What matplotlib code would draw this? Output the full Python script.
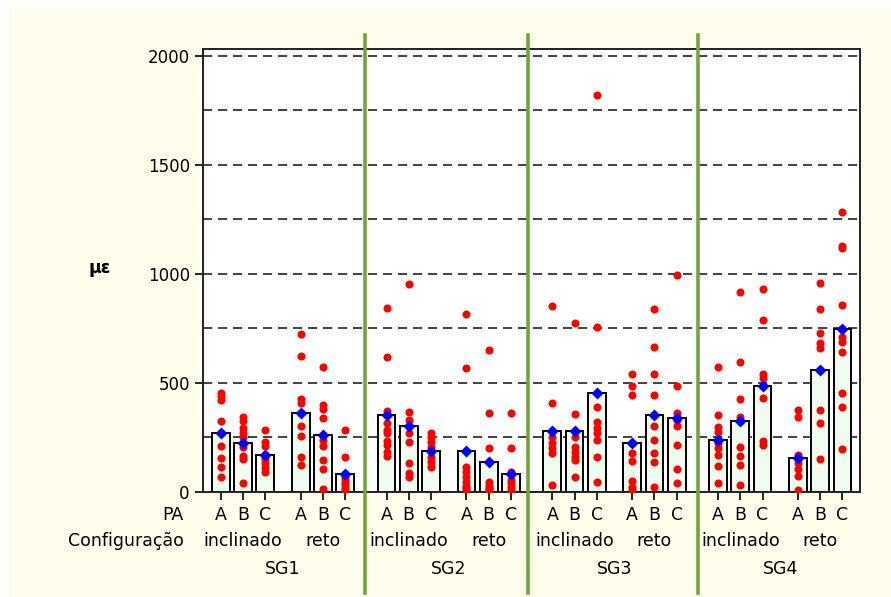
import numpy as np
import matplotlib.pyplot as plt
import matplotlib.transforms as mtransforms
from matplotlib.lines import Line2D
from matplotlib.patches import Rectangle

# grupos
sg_nomes = ['SG1', 'SG2', 'SG3', 'SG4']
configs = ['inclinado', 'reto']
pa_nomes = ['A', 'B', 'C']

# médias (diamante azul) na ordem SG -> configuração -> PA
medias = [269, 226, 168, 361, 261, 83,
          353, 303, 189, 189, 139, 83,
          281, 281, 453, 226, 353, 339,
          240, 324, 488, 155, 560, 746]

# valores individuais (pontos vermelhos), mesma ordem
sg1_incl_A = [455, 440, 420, 326, 270, 211, 155, 113, 70]
sg1_incl_B = [343, 324, 294, 269, 251, 226, 208, 165, 150, 43]
sg1_incl_C = [284, 231, 211, 168, 150, 132, 109, 90]
sg1_reto_A = [725, 625, 427, 407, 361, 303, 257, 159, 124]
sg1_reto_B = [575, 399, 379, 338, 261, 239, 212, 147, 104, 12]
sg1_reto_C = [284, 162, 83, 70, 55, 40, 32, 20, 9]
sg2_incl_A = [845, 618, 373, 353, 315, 284, 269, 234, 216, 185, 165]
sg2_incl_B = [953, 368, 330, 303, 269, 231, 134, 86, 70]
sg2_incl_C = [272, 254, 231, 208, 189, 162, 139, 116]
sg2_reto_A = [816, 567, 116, 93, 70, 47, 28, 20, 10]
sg2_reto_B = [651, 361, 203, 47, 30, 24, 15, 9, 5]
sg2_reto_C = [361, 203, 93, 83, 55, 40, 24, 10, 1]
sg3_incl_A = [853, 410, 281, 254, 226, 200, 180, 32]
sg3_incl_B = [774, 358, 281, 254, 208, 185, 162, 147, 67]
sg3_incl_C = [1822, 758, 391, 322, 292, 269, 239, 162, 47]
sg3_reto_A = [540, 488, 445, 226, 177, 142, 52, 24, 9]
sg3_reto_B = [838, 667, 540, 445, 353, 304, 239, 177, 136, 24]
sg3_reto_C = [995, 488, 361, 339, 330, 304, 216, 104, 40]
sg4_incl_A = [575, 353, 300, 277, 240, 223, 200, 170, 119, 40]
sg4_incl_B = [916, 595, 425, 345, 324, 205, 167, 124, 32]
sg4_incl_C = [930, 789, 541, 521, 488, 430, 235, 216]
sg4_reto_A = [376, 345, 170, 155, 134, 104, 73, 9]
sg4_reto_B = [957, 838, 731, 685, 659, 560, 376, 315, 153]
sg4_reto_C = [1286, 1121, 1130, 858, 746, 712, 690, 644, 453, 389, 197]

pontos = [sg1_incl_A, sg1_incl_B, sg1_incl_C, sg1_reto_A, sg1_reto_B, sg1_reto_C,
          sg2_incl_A, sg2_incl_B, sg2_incl_C, sg2_reto_A, sg2_reto_B, sg2_reto_C,
          sg3_incl_A, sg3_incl_B, sg3_incl_C, sg3_reto_A, sg3_reto_B, sg3_reto_C,
          sg4_incl_A, sg4_incl_B, sg4_incl_C, sg4_reto_A, sg4_reto_B, sg4_reto_C]

# posições no eixo x
periodo_sg = 7.47
offs = [0, 1, 2, 3.6, 4.6, 5.6]
xs = np.array([i * periodo_sg + o for i in range(4) for o in offs])
separadores = [6.5, 13.85, 21.5]

fundo = '#fffeec'
verde = '#72a53f'

fig = plt.figure(figsize=(8.91, 5.97), dpi=100, facecolor='white')
# faixa branca em cima e à esquerda, resto amarelo claro
fig.add_artist(Rectangle((9 / 891, 0), 1, 1 - 7 / 597, transform=fig.transFigure,
                         facecolor=fundo, edgecolor='none', zorder=-10))
ax = fig.add_axes([0.2278, 0.1759, 0.7374, 0.742])
ax.set_facecolor('white')

ax.bar(xs, medias, width=0.8, color='#effcef', edgecolor='black', linewidth=1.4, zorder=2)
for x, vals in zip(xs, pontos):
    ax.plot([x] * len(vals), vals, 'o', color='#ff0000', ms=5.8, mec='none', zorder=3)
ax.plot(xs, medias, 'D', color='#0000ff', ms=6.5, mec='none', zorder=4)

ax.set_xlim(-0.8, 28.8)
ax.set_ylim(0, 2032)
ax.set_yticks(np.arange(0, 2001, 500))
ax.set_yticks(np.arange(250, 2001, 500), minor=True)
ax.yaxis.grid(True, which='both', color='#222222', linestyle=(0, (5.5, 3.5)), linewidth=1.2)
ax.set_axisbelow(True)
ax.tick_params(axis='y', which='major', labelsize=12, length=6, width=1.2, direction='out')
ax.tick_params(axis='y', which='minor', length=0)
ax.set_xticks(xs)
ax.set_xticklabels([])
ax.tick_params(axis='x', length=6, width=1.2, direction='out')
for s in ax.spines.values():
    s.set_linewidth(1.4)
    s.set_color('#222222')

# rótulos abaixo do eixo
trans = mtransforms.blended_transform_factory(ax.transData, fig.transFigure)
y_pa, y_cfg, y_sg = 1 - 515 / 597, 1 - 541 / 597, 1 - 569 / 597
for i, x in enumerate(xs):
    ax.text(x, y_pa, pa_nomes[i % 3], transform=trans, ha='center', va='center', fontsize=12.5)
for i in range(4):
    for j, cfg in enumerate(configs):
        xc = xs[i * 6 + j * 3 + 1]
        ax.text(xc, y_cfg, cfg, transform=trans, ha='center', va='center', fontsize=12.5)
    xc = (xs[i * 6] + xs[i * 6 + 5]) / 2
    ax.text(xc, y_sg, sg_nomes[i], transform=trans, ha='center', va='center', fontsize=12.5)

fig.text(184 / 891, y_pa, 'PA', ha='right', va='center', fontsize=12.5)
fig.text(184 / 891, y_cfg, 'Configuração', ha='right', va='center', fontsize=12.5)
fig.text(100 / 891, 1 - 268 / 597, 'µε', ha='center', va='center', fontsize=12.5, fontweight='bold')

# linhas verdes separando os SG
for xsep in separadores:
    ax.add_line(Line2D([xsep, xsep], [1 - 593 / 597, 1 - 35 / 597], transform=trans,
                       color=verde, linewidth=2.6, clip_on=False, zorder=5))

fig.savefig('out.png', dpi=100, facecolor='white')
